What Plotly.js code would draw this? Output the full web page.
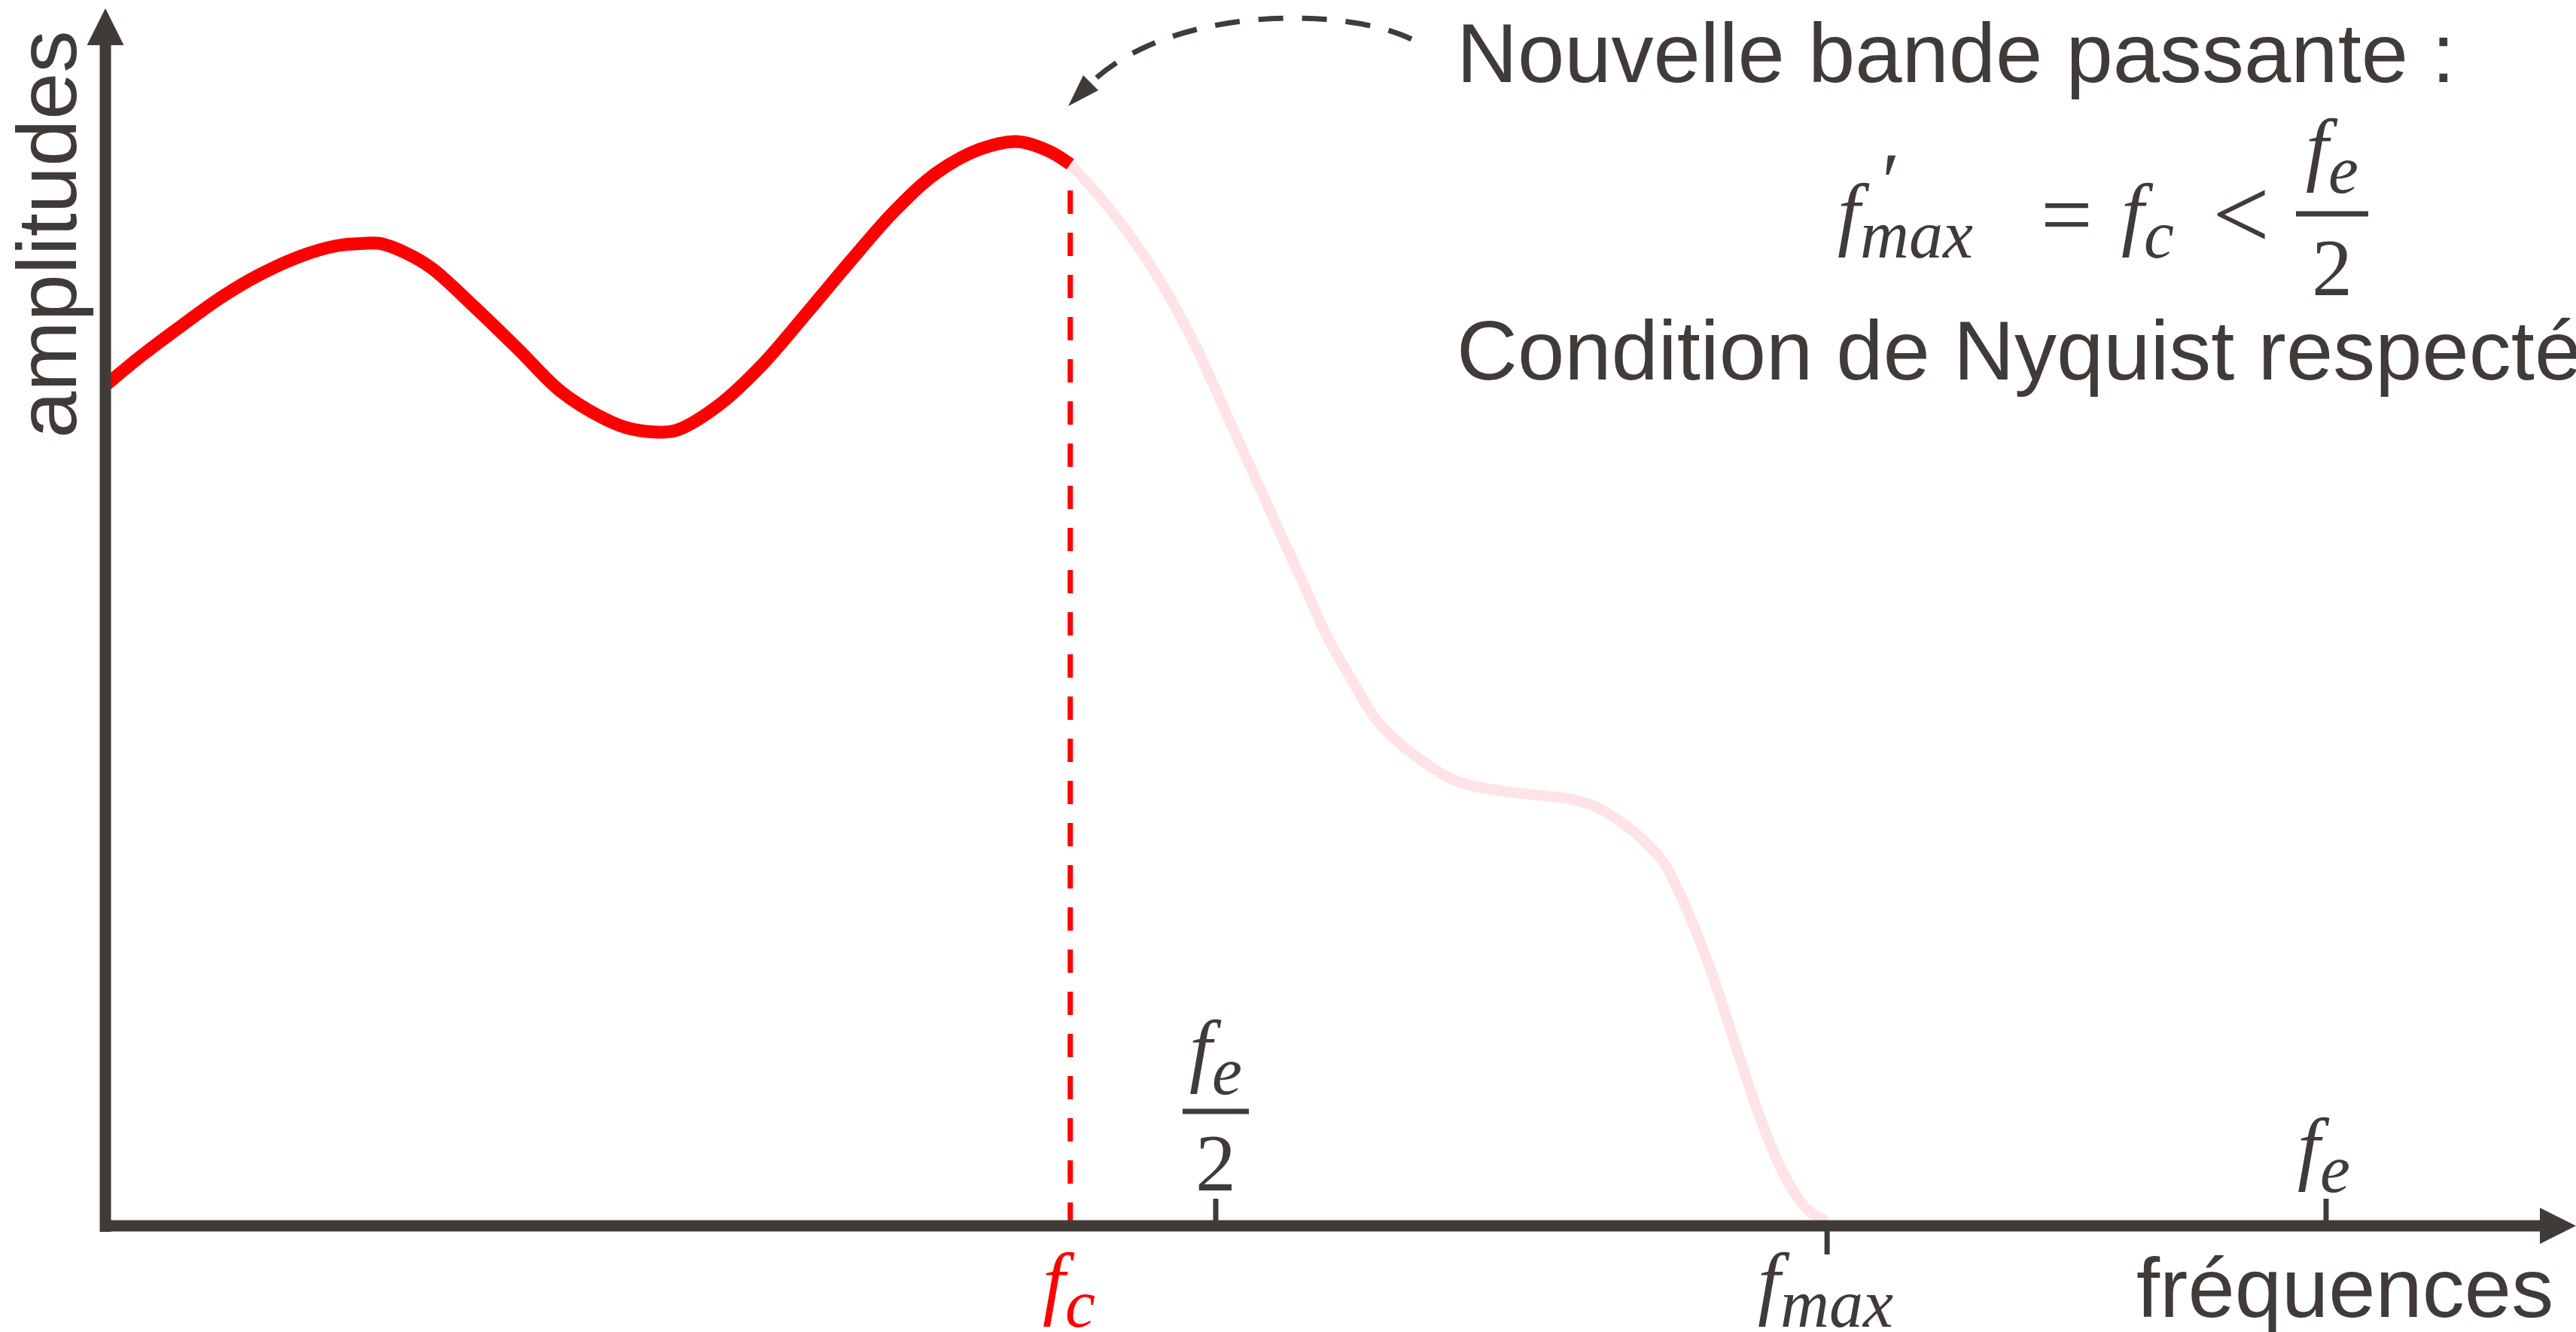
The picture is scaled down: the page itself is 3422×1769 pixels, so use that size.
<!DOCTYPE html>
<html>
<head>
<meta charset="utf-8">
<script src="https://cdn.plot.ly/plotly-3.0.1.min.js"></script>
<style>html,body{margin:0;padding:0;background:#fff;}#chart{width:3422px;height:1769px;}</style>
</head>
<body>
<div id="chart"></div>
<script>
// ---- data (frequency in arbitrary units, fe = 10; amplitude relative) ----
const bandFreq = [0, 0.166, 0.342, 0.519, 0.692, 0.888, 1.044, 1.159, 1.237, 1.356, 1.471, 1.664, 1.861, 2.054, 2.251, 2.366, 2.502, 2.576, 2.769, 2.966, 3.159, 3.356, 3.549, 3.742, 3.939, 4.105, 4.251, 4.345];
const bandAmp  = [0.775, 0.803, 0.830, 0.856, 0.877, 0.895, 0.904, 0.906, 0.906, 0.897, 0.883, 0.847, 0.808, 0.769, 0.744, 0.735, 0.732, 0.734, 0.758, 0.796, 0.842, 0.890, 0.935, 0.971, 0.993, 1.000, 0.991, 0.979];
const cutFreq  = [4.345, 4.522, 4.712, 4.898, 5.085, 5.288, 5.397, 5.505, 5.614, 5.722, 5.827, 5.936, 6.044, 6.153, 6.369, 6.586, 6.695, 6.800, 6.908, 7.017, 7.125, 7.234, 7.342, 7.451, 7.559, 7.664, 7.753];
const cutAmp   = [0.979, 0.938, 0.884, 0.816, 0.732, 0.640, 0.591, 0.542, 0.503, 0.467, 0.445, 0.428, 0.414, 0.406, 0.399, 0.394, 0.388, 0.376, 0.359, 0.335, 0.290, 0.233, 0.166, 0.100, 0.047, 0.015, 0.004];
const fc = 4.345, feHalf = 5, fmax = 7.753, fe = 10;
const SUB = s => '<sub><span style="font-size:90px"><i>' + s + '</i></span></sub>';
const tickLabels = {fc: '<i>f</i>' + SUB('c'), fe: '<i>f</i>' + SUB('e'), fmax: '<i>f</i>' + SUB('max'), two: '2'};
const xTitle = 'fréquences', yTitle = 'amplitudes';
const line1 = 'Nouvelle bande passante :', line3 = 'Condition de Nyquist respectée';

// ---- geometry ----
const W = 3422, H = 1769, X0 = 140, XS = 295, Y0 = 1628, YS = 1440;
const dx = p => (p - X0) / XS, dy = p => (Y0 - p) / YS;
const ppx = p => p / W, ppy = p => (H - p) / H;
const DARK = '#403b38', RED = '#ff0000', PINK = '#ffe3e6';
const SANS = {family: 'Liberation Sans, Arial, sans-serif', size: 112, color: DARK};
const MATH = {family: 'Liberation Serif, Times New Roman, serif', size: 108, color: DARK};
const MATHR = Object.assign({}, MATH, {color: RED});
const MSZ = s => Object.assign({}, MATH, {size: s});

const traces = [
  {x: cutFreq, y: cutAmp, mode: 'lines', line: {color: PINK, width: 14, shape: 'spline', smoothing: 1, simplify: false}, hoverinfo: 'skip'},
  {x: bandFreq, y: bandAmp, mode: 'lines', line: {color: RED, width: 17, shape: 'spline', smoothing: 1, simplify: false}, hoverinfo: 'skip'}
];

const L = (x0, y0, x1, y1, color, width, dash) => ({type: 'line', xref: 'x', yref: 'y', x0, y0, x1, y1, line: {color, width, dash: dash || 'solid'}});
const shapes = [
  // dashed cutoff line
  L(fc, 0, fc, dy(229), RED, 7, '31px,25px'),
  // axes
  L(dx(133), 0, dx(3380), 0, DARK, 15),
  L(0, dy(1636), 0, dy(55), DARK, 15),
  {type: 'path', xref: 'x', yref: 'y', path: `M ${dx(3422)},0 L ${dx(3374)},${dy(1604)} L ${dx(3374)},${dy(1652)} Z`, fillcolor: DARK, line: {width: 0}},
  {type: 'path', xref: 'x', yref: 'y', path: `M 0,${dy(11)} L ${dx(115.5)},${dy(60)} L ${dx(164.5)},${dy(60)} Z`, fillcolor: DARK, line: {width: 0}},
  // ticks
  L(feHalf, dy(1621), feHalf, dy(1592), DARK, 7),
  L(fe, dy(1621), fe, dy(1592), DARK, 7),
  L(fmax, dy(1635), fmax, dy(1666), DARK, 7),
  // fraction bars
  L(dx(1571), dy(1476), dx(1659), dy(1476), DARK, 7),
  L(dx(3050), dy(284), dx(3146), dy(284), DARK, 7),
  // dashed curved arrow
  {type: 'path', xref: 'x', yref: 'y', path: `M ${dx(1875)},${dy(52)} C ${dx(1790)},${dy(10)} ${dx(1560)},${dy(5)} ${dx(1449)},${dy(110)}`, line: {color: DARK, width: 7, dash: '33px,25px'}, fillcolor: 'rgba(0,0,0,0)'},
  {type: 'path', xref: 'x', yref: 'y', path: `M ${dx(1419)},${dy(141)} L ${dx(1439)},${dy(100)} L ${dx(1459)},${dy(120)} Z`, fillcolor: DARK, line: {width: 0}}
];

const A = (text, x, y, font, xanchor, extra) => Object.assign({text, x: ppx(x), y: ppy(y), xref: 'paper', yref: 'paper', xanchor: xanchor || 'center', yanchor: 'middle', showarrow: false, font, borderpad: 0}, extra || {});
const annotations = [
  A(yTitle, 63, 311, SANS, 'center', {textangle: -90}),
  A(xTitle, 3393, 1710, SANS, 'right'),
  A(line1, 1934, 70, SANS, 'left'),
  A(line3, 1934, 465, SANS, 'left'),
  // axis labels
  A(tickLabels.fc, 1420, 1712, MATHR),
  A(tickLabels.fe, 1615, 1403, MATH),
  A(tickLabels.two, 1615, 1544, MATH),
  A(tickLabels.fmax, 2425, 1712, MATH),
  A(tickLabels.fe, 3087, 1533, MATH),
  // formula
  A(tickLabels.fmax, 2440, 292, MATH, 'left'),
  A('′', 2512, 240, MATH),
  A('=', 2745, 285, MSZ(122)),
  A(tickLabels.fc, 2817, 292, MATH, 'left'),
  A('<', 2977, 284, MSZ(135)),
  A(tickLabels.fe, 3098, 206, MATH),
  A(tickLabels.two, 3098, 355, MATH)
];

const layout = {
  width: W, height: H,
  margin: {l: 0, r: 0, t: 0, b: 0, pad: 0},
  paper_bgcolor: '#ffffff', plot_bgcolor: '#ffffff',
  showlegend: false,
  xaxis: {range: [dx(0), dx(W)], visible: false, fixedrange: true},
  yaxis: {range: [dy(H), dy(0)], visible: false, fixedrange: true},
  shapes, annotations
};
Plotly.newPlot('chart', traces, layout, {displayModeBar: false, staticPlot: true});
</script>
</body>
</html>
